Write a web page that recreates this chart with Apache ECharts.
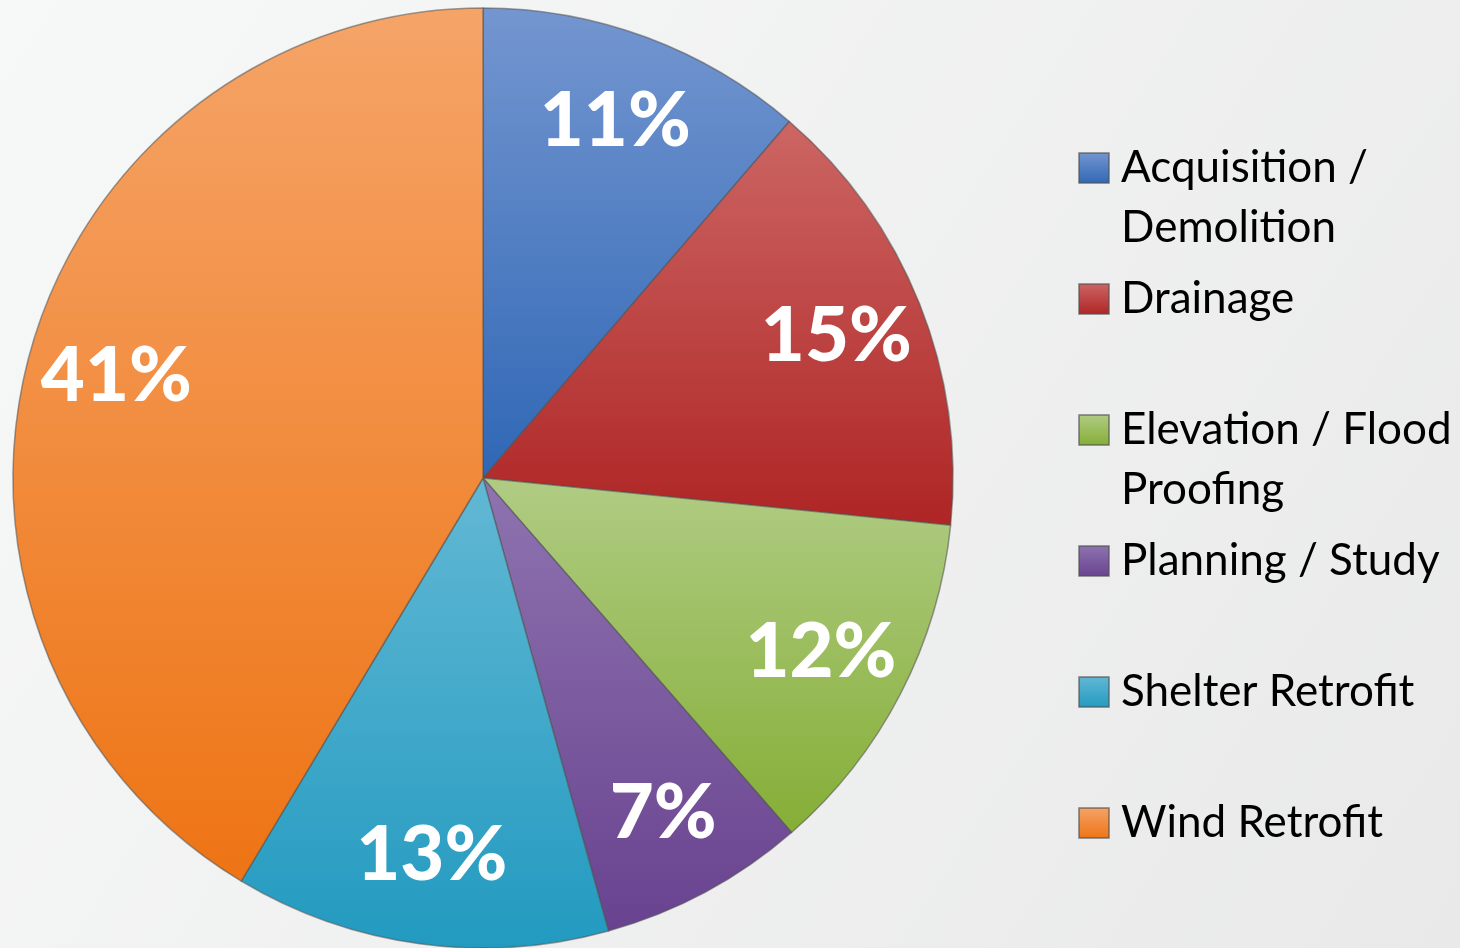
<!DOCTYPE html>
<html>
<head>
<meta charset="utf-8">
<script src="https://cdn.jsdelivr.net/npm/echarts@6/dist/echarts.min.js"></script>
<style>
  html, body { margin: 0; padding: 0; }
  #chart { width: 1460px; height: 948px; }
</style>
</head>
<body>
<div id="chart"></div>
<script>
// chart data
const categories = ["Acquisition / Demolition", "Drainage", "Elevation / Flood Proofing", "Planning / Study", "Shelter Retrofit", "Wind Retrofit"];
const legendLines = [["Acquisition /", "Demolition"], ["Drainage"], ["Elevation / Flood", "Proofing"], ["Planning / Study"], ["Shelter Retrofit"], ["Wind Retrofit"]];
// shares; labels show them rounded
const shares = [11.3, 15.3, 12.0, 7.1, 12.9, 41.4];

// slice colours, light (top) to dark (bottom)
const lightColors = ["#7496d0", "#cc6664", "#b0cc84", "#8f74b0", "#62b8d4", "#f5a468"];
const darkColors = ["#2f67b5", "#ae2524", "#85ae36", "#68428f", "#229ac0", "#ee7414"];

const font = "Lato, 'Open Sans', sans-serif";
const lineH = 60;

const chart = echarts.init(document.getElementById("chart"));

const seriesData = categories.map((name, i) => ({
  name: name,
  value: shares[i],
  itemStyle: {
    color: new echarts.graphic.LinearGradient(0, 0, 0, 1, [
      { offset: 0, color: lightColors[i] },
      { offset: 1, color: darkColors[i] }
    ])
  }
}));

// one legend per entry so the rows keep an even spacing;
// two-line entries get an empty first line so the icon sits on the first text line
const legends = categories.map((name, i) => {
  const lines = legendLines[i];
  const twoLines = lines.length > 1;
  const centerY = 167 + 131 * i;
  return {
    data: [name],
    left: 1073,
    top: centerY - (twoLines ? 94 : 34),
    itemWidth: 30,
    itemHeight: 30,
    itemGap: 0,
    icon: "rect",
    selectedMode: false,
    formatter: () => (twoLines ? [" "].concat(lines) : lines).join("\n"),
    textStyle: {
      fontFamily: font,
      fontSize: 44,
      color: "#000",
      lineHeight: lineH,
      padding: [0, 0, 0, 7]
    }
  };
});

chart.setOption({
  backgroundColor: new echarts.graphic.LinearGradient(0, 0, 1, 1, [
    { offset: 0, color: "#f7f8f8" },
    { offset: 1, color: "#e9e9e9" }
  ]),
  animation: false,
  legend: legends,
  series: [
    {
      type: "pie",
      center: [483, 478],
      radius: [0, 470],
      startAngle: 90,
      clockwise: true,
      silent: true,
      label: { show: false },
      labelLine: { show: false },
      itemStyle: {
        borderColor: "rgba(80,80,80,0.55)",
        borderWidth: 1.5
      },
      data: seriesData
    },
    {
      // label ring: places percentage text near the outer part of each slice
      type: "pie",
      center: [483, 478],
      radius: [285, 470],
      startAngle: 90,
      clockwise: true,
      silent: true,
      legendHoverLink: false,
      itemStyle: { color: "rgba(0,0,0,0)" },
      label: {
        show: true,
        position: "inside",
        formatter: (p) => Math.round(p.value) + "%",
        color: "#fff",
        fontFamily: font,
        fontWeight: 900,
        fontSize: 76
      },
      labelLine: { show: false },
      data: categories.map((name, i) => ({ name: name, value: shares[i] }))
    }
  ]
});
</script>
</body>
</html>
